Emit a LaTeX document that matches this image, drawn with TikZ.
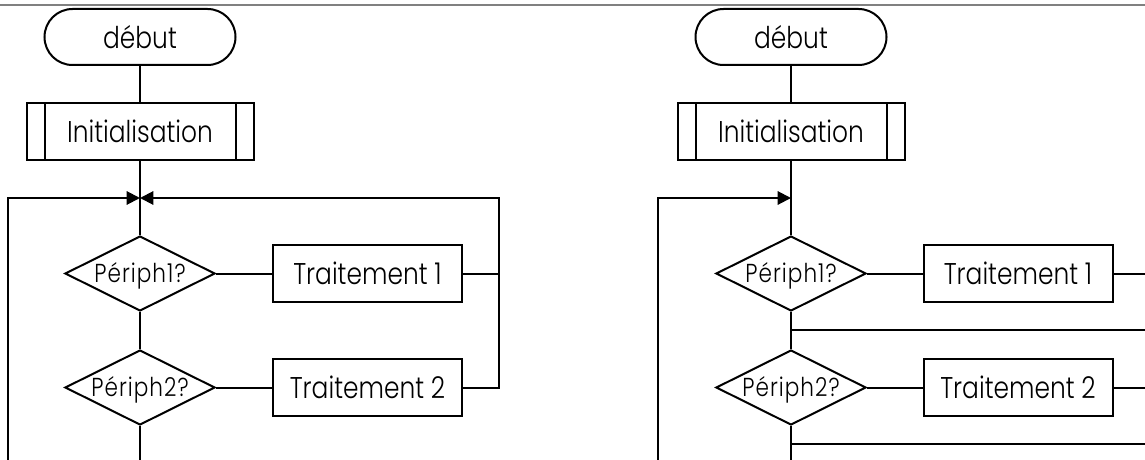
\documentclass[tikz,border=0pt]{standalone}
\usepackage{fontspec}
\setmainfont{Poppins Light}[FakeStretch=0.83]
\newfontfamily\testfont{Poppins Light}[FakeStretch=0.83,LetterSpace=4]
\newcommand\testlabel[1]{\makebox[0pt][c]{\raisebox{-0.36em}[0pt][0pt]{#1}}}
\usetikzlibrary{shapes.geometric,arrows.meta,calc}
\begin{document}
\begin{tikzpicture}[x=0.75pt,y=-0.75pt,line width=1.5pt,
  flow/.style={draw,line width=1.5pt,inner sep=0pt,font=\fontsize{22.5}{26}\selectfont},
  terminal/.style={flow,rectangle,rounded corners=21pt,minimum width=143.25pt,minimum height=42pt},
  subproc/.style={flow,rectangle,minimum width=170.25pt,minimum height=42.75pt,
    path picture={
      \draw[line width=1.5pt] ([xshift=13.5pt]path picture bounding box.north west) -- ([xshift=13.5pt]path picture bounding box.south west);
      \draw[line width=1.5pt] ([xshift=-13.5pt]path picture bounding box.north east) -- ([xshift=-13.5pt]path picture bounding box.south east);}},
  decision/.style={flow,diamond,minimum width=112.5pt,minimum height=56.25pt,
    font=\testfont\fontsize{19.5}{22}\selectfont},
  procbox/.style={flow,rectangle,minimum width=141.75pt,minimum height=42.75pt},
  tip/.style={-{Triangle[length=10pt,width=10pt]}}]
\useasboundingbox (0,0) rectangle (1145,460);
% header rule
\draw[line width=1.5pt,color=black!50] (0,5) -- (1145,5);

% ---- left flowchart: loop back after each treatment
\node[terminal] (Ldeb) at (140,37) {début};
\node[subproc] (Linit) at (140,131.5) {Initialisation};
\node[decision] (Ld1) at (140,273.5) {\testlabel{Périph1?}};
\node[procbox] (LT1) at (367.5,273.5) {Traitement 1};
\node[decision] (Ld2) at (140,387.5) {\testlabel{Périph2?}};
\node[procbox] (LT2) at (367.5,387.5) {Traitement 2};
\coordinate (Ljoin) at (140,198);
\coordinate (Lbot) at (140,460);
\coordinate (Lloop) at (8,460);
\coordinate (Lr1) at (499,273.5);
\coordinate (Lr2) at (499,387.5);
\coordinate (Lrtop) at (499,198);

\draw (Ldeb) -- (Linit);
\draw (Linit) -- (Ld1);
\draw (Ld1) -- (LT1);
\draw (Ld1) -- (Ld2);
\draw (Ld2) -- (LT2);
\draw (Ld2) -- (Lbot);
\draw[tip] (Lloop) |- (Ljoin);
\draw (LT1) -- (Lr1);
\draw[tip] (LT2) -- (Lr2) -- (Lrtop) -- (Ljoin);

% ---- right flowchart: fall through to the next test
\node[terminal] (Rdeb) at (791,37) {début};
\node[subproc] (Rinit) at (791,131.5) {Initialisation};
\node[decision] (Rd1) at (791,273.5) {\testlabel{Périph1?}};
\node[procbox] (RT1) at (1018,273.5) {Traitement 1};
\node[decision] (Rd2) at (791,387.5) {\testlabel{Périph2?}};
\node[procbox] (RT2) at (1018,387.5) {Traitement 2};
\coordinate (Rjoin) at (791,198);
\coordinate (Rbot) at (791,460);
\coordinate (Rloop) at (658,460);
\coordinate (Rm1) at (791,330);
\coordinate (Rm2) at (791,444);
\coordinate (Re1) at (1145,273.5);
\coordinate (Re2) at (1145,387.5);
\coordinate (Rem1) at (1145,330);
\coordinate (Rem2) at (1145,444);

\draw (Rdeb) -- (Rinit);
\draw (Rinit) -- (Rd1);
\draw (Rd1) -- (RT1);
\draw (Rd1) -- (Rd2);
\draw (Rd2) -- (RT2);
\draw (Rd2) -- (Rbot);
\draw[tip] (Rloop) |- (Rjoin);
\draw (RT1) -- (Re1);
\draw (RT2) -- (Re2);
\draw (Rm1) -- (Rem1);
\draw (Rm2) -- (Rem2);
\end{tikzpicture}
\end{document}
